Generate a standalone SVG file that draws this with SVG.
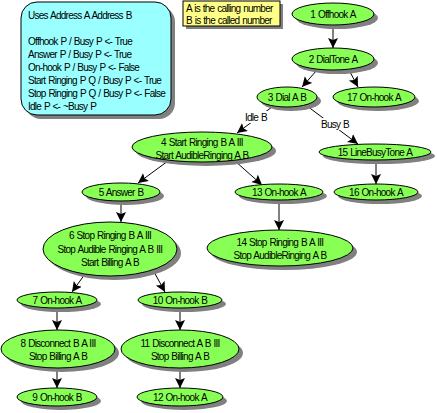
<svg xmlns="http://www.w3.org/2000/svg" width="437" height="413" viewBox="0 0 437 413">
<defs>
<style>
text{font-family:"Liberation Sans",Arial,sans-serif;font-size:10px;letter-spacing:-0.75px;word-spacing:0.8px;fill:#000}
.n text{text-anchor:middle}
.n ellipse.b{fill:#88FF55;stroke:#000;stroke-width:1}
.sh{fill:#808080}
.e line{stroke:#000;stroke-width:1;marker-end:url(#ah)}
.lbl{fill:#fff}
</style>
<marker id="ah" markerUnits="userSpaceOnUse" markerWidth="11" markerHeight="11" refX="10" refY="5" orient="auto">
<path d="M0,0 L10,5 L0,10 L2,5 z" fill="#000"/>
</marker>
</defs>
<rect width="437" height="413" fill="#fff"/>
<g id="info">
<rect class="sh" x="25" y="6" width="150" height="113" rx="16"/>
<rect x="21" y="2" width="150" height="113" rx="16" fill="#99FFFF" stroke="#000"/>
<text x="28" y="19">Uses Address A Address B</text>
<text x="28" y="45">Offhook P / Busy P &lt;- True</text>
<text x="28" y="58">Answer P / Busy P &lt;- True</text>
<text x="28" y="71">On-hook P / Busy P &lt;- False</text>
<text x="28" y="84">Start Ringing P Q / Busy P &lt;- True</text>
<text x="28" y="97">Stop Ringing P Q / Busy P &lt;- False</text>
<text x="28" y="110">Idle P &lt;- ~Busy P</text>
</g>
<g id="note">
<rect class="sh" x="186" y="4" width="97" height="25"/>
<rect x="183" y="1" width="97" height="25" fill="#FFFF88" stroke="#000"/>
<text x="186" y="12">A is the calling number</text>
<text x="186" y="24">B is the called number</text>
</g>
<g id="connectors" class="e">
<line x1="333" y1="25" x2="333" y2="48"/>
<line x1="317" y1="70" x2="302" y2="87"/>
<line x1="349" y1="70" x2="358" y2="87"/>
<line x1="272" y1="107" x2="237" y2="133"/>
<line x1="307" y1="106" x2="358" y2="144"/>
<line x1="168" y1="161" x2="138" y2="183"/>
<line x1="235" y1="161" x2="262" y2="185"/>
<line x1="376" y1="160" x2="376" y2="184"/>
<line x1="279" y1="200" x2="279" y2="230"/>
<line x1="121" y1="201" x2="121" y2="222"/>
<line x1="85" y1="274" x2="72" y2="292"/>
<line x1="153" y1="270" x2="165" y2="292"/>
<line x1="57" y1="308" x2="57" y2="330"/>
<line x1="180" y1="308" x2="180" y2="330"/>
<line x1="57" y1="368" x2="57" y2="388"/>
<line x1="180" y1="368" x2="180" y2="388"/>
<rect class="lbl" x="244" y="111" width="25" height="12"/>
<text x="245" y="121">Idle B</text>
<rect class="lbl" x="320" y="118" width="30" height="12"/>
<text x="321" y="128">Busy B</text>
</g>
<g id="n1" class="n"><ellipse class="sh" cx="337" cy="18" rx="41" ry="11"/><ellipse class="b" cx="333" cy="14" rx="41" ry="11"/><text x="333" y="18">1 Offhook A</text></g>
<g id="n2" class="n"><ellipse class="sh" cx="337" cy="63" rx="41" ry="11"/><ellipse class="b" cx="333" cy="59" rx="41" ry="11"/><text x="333" y="63">2 DialTone A</text></g>
<g id="n3" class="n"><ellipse class="sh" cx="291" cy="101" rx="30" ry="10"/><ellipse class="b" cx="287" cy="97" rx="30" ry="10"/><text x="287" y="101">3 Dial A B</text></g>
<g id="n17" class="n"><ellipse class="sh" cx="378" cy="101" rx="41" ry="10"/><ellipse class="b" cx="374" cy="97" rx="41" ry="10"/><text x="374" y="101">17 On-hook A</text></g>
<g id="n4" class="n"><ellipse class="sh" cx="206" cy="151" rx="70" ry="15"/><ellipse class="b" cx="202" cy="147" rx="70" ry="15"/><text x="202" y="146">4 Start Ringing B A III</text><text x="202" y="159">Start AudibleRinging A B</text></g>
<g id="n15" class="n"><ellipse class="sh" cx="379" cy="156" rx="56" ry="8"/><ellipse class="b" cx="375" cy="152" rx="56" ry="8"/><text x="375" y="156">15 LineBusyTone A</text></g>
<g id="n5" class="n"><ellipse class="sh" cx="125" cy="196" rx="39" ry="9"/><ellipse class="b" cx="121" cy="192" rx="39" ry="9"/><text x="121" y="196">5 Answer  B</text></g>
<g id="n13" class="n"><ellipse class="sh" cx="283" cy="196" rx="44" ry="8"/><ellipse class="b" cx="279" cy="192" rx="44" ry="8"/><text x="279" y="196">13 On-hook A</text></g>
<g id="n16" class="n"><ellipse class="sh" cx="380" cy="196" rx="42" ry="8"/><ellipse class="b" cx="376" cy="192" rx="42" ry="8"/><text x="376" y="196">16 On-hook A</text></g>
<g id="n6" class="n"><ellipse class="sh" cx="114" cy="253" rx="67" ry="27"/><ellipse class="b" cx="110" cy="249" rx="67" ry="27"/><text x="110" y="239">6 Stop Ringing B A III</text><text x="110" y="253">Stop Audible Ringing A B III</text><text x="110" y="266">Start Billing A B</text></g>
<g id="n14" class="n"><ellipse class="sh" cx="284" cy="252" rx="73" ry="18"/><ellipse class="b" cx="280" cy="248" rx="73" ry="18"/><text x="280" y="246">14 Stop Ringing B A III</text><text x="280" y="259">Stop AudibleRinging A B</text></g>
<g id="n7" class="n"><ellipse class="sh" cx="61" cy="304" rx="40" ry="8"/><ellipse class="b" cx="57" cy="300" rx="40" ry="8"/><text x="57" y="304">7 On-hook A</text></g>
<g id="n10" class="n"><ellipse class="sh" cx="184" cy="304" rx="42" ry="8"/><ellipse class="b" cx="180" cy="300" rx="42" ry="8"/><text x="180" y="304">10 On-hook B</text></g>
<g id="n8" class="n"><ellipse class="sh" cx="62" cy="353" rx="57" ry="19"/><ellipse class="b" cx="58" cy="349" rx="57" ry="19"/><text x="58" y="347">8 Disconnect B A III</text><text x="58" y="360">Stop Billing A B</text></g>
<g id="n11" class="n"><ellipse class="sh" cx="184" cy="353" rx="59" ry="19"/><ellipse class="b" cx="180" cy="349" rx="59" ry="19"/><text x="180" y="347">11 Disconnect A B III</text><text x="180" y="360">Stop Billing A B</text></g>
<g id="n9" class="n"><ellipse class="sh" cx="61" cy="401" rx="40" ry="9"/><ellipse class="b" cx="57" cy="397" rx="40" ry="9"/><text x="57" y="401">9 On-hook B</text></g>
<g id="n12" class="n"><ellipse class="sh" cx="184" cy="401" rx="43" ry="9"/><ellipse class="b" cx="180" cy="397" rx="43" ry="9"/><text x="180" y="401">12 On-hook A</text></g>
</svg>
